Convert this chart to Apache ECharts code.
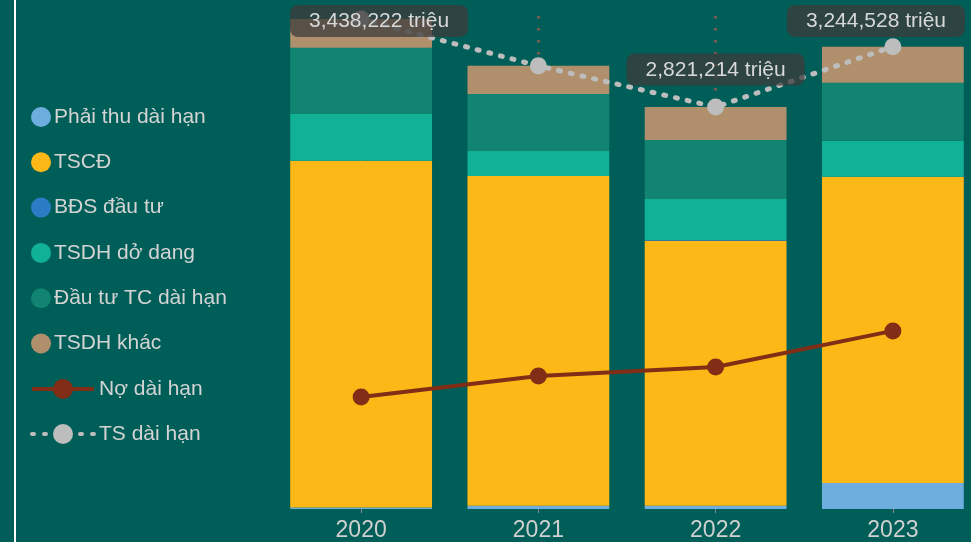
<!DOCTYPE html>
<html>
<head>
<meta charset="utf-8">
<script src="https://cdn.jsdelivr.net/npm/echarts@6/dist/echarts.min.js"></script>
<style>
html,body{margin:0;padding:0;background:#005e58;}
#chart{width:971px;height:542px;}
</style>
</head>
<body>
<div id="chart"></div>
<script>
const categories = ['2020', '2021', '2022', '2023'];
const phaiThu = [10000, 23000, 23000, 183000];
const tscd = [2434000, 2314000, 1860000, 2148000];
const bds = [0, 0, 5000, 0];
const doDang = [330000, 176000, 288000, 253000];
const dauTuTC = [463000, 400000, 414000, 407000];
const khac = [201222, 197000, 231214, 253528];
const noDaiHan = [786000, 934000, 997000, 1250000];
const tsDaiHan = [3438222, 3110000, 2821214, 3244528];
const tsLabelShown = [true, false, true, true];

const FONT = '"Liberation Sans", Arial, sans-serif';
const chart = echarts.init(document.getElementById('chart'));

function barSeries(name, data, color) {
  return { name, type: 'bar', stack: 'ts', data, barCategoryGap: '20%',
    itemStyle: { color }, emphasis: { disabled: true } };
}

const option = {
  backgroundColor: '#005e58',
  animation: false,
  textStyle: { fontFamily: FONT },
  graphic: [{ type: 'rect', shape: { x: 14, y: 0, width: 2, height: 542 }, style: { fill: '#ffffff' }, silent: true }],
  grid: { left: 272.5, width: 709, top: 16, bottom: 33, containLabel: false, outerBoundsMode: 'none' },
  legend: [
    { orient: 'vertical', left: 31, top: 106.5, padding: 0, itemWidth: 20, itemHeight: 20, itemGap: 24.3, icon: 'circle',
      textStyle: { color: '#d4d4d4', fontSize: 21, fontFamily: FONT, padding: [0, 0, 0, -2] },
      data: ['Phải thu dài hạn', 'TSCĐ', 'BĐS đầu tư', 'TSDH dở dang', 'Đầu tư TC dài hạn', 'TSDH khác'] },
    { orient: 'vertical', left: 30, top: 378.5, padding: 0, itemWidth: 62, itemHeight: 25, itemGap: 24,
      lineStyle: { width: 4 },
      textStyle: { color: '#d4d4d4', fontSize: 21, fontFamily: FONT },
      data: ['Nợ dài hạn', 'TS dài hạn'] }
  ],
  xAxis: {
    type: 'category', data: categories,
    axisLine: { show: false },
    axisTick: { show: true, alignWithLabel: true, length: 4, lineStyle: { color: '#8a8a8a' } },
    axisLabel: { color: '#d0d0d0', fontSize: 23, margin: 10, fontFamily: FONT },
    splitLine: { show: true, alignWithLabel: true, lineStyle: { color: '#7a5c55', width: 3, type: [2.5, 9.5] } }
  },
  yAxis: { type: 'value', min: 0, max: 3460000, show: false, splitLine: { show: false } },
  series: [
    barSeries('Phải thu dài hạn', phaiThu, '#6eaedf'),
    barSeries('TSCĐ', tscd, '#fcb816'),
    barSeries('BĐS đầu tư', bds, '#2a7cc4'),
    barSeries('TSDH dở dang', doDang, '#11b196'),
    barSeries('Đầu tư TC dài hạn', dauTuTC, '#118472'),
    barSeries('TSDH khác', khac, '#b0906c'),
    { name: 'Nợ dài hạn', type: 'line', data: noDaiHan, symbol: 'circle', symbolSize: 17,
      itemStyle: { color: '#822d16' }, lineStyle: { color: '#822d16', width: 4 }, z: 5 },
    { name: 'TS dài hạn', type: 'line',
      data: tsDaiHan.map((v, i) => ({ value: v, label: { show: tsLabelShown[i] } })),
      symbol: 'circle', symbolSize: 17, z: 6,
      itemStyle: { color: '#bdbdbd' },
      lineStyle: { color: '#bdbdbd', width: 5, type: [2, 10], cap: 'round' },
      label: { show: true, position: 'top', distance: 13,
        formatter: p => p.value.toLocaleString('en-US') + ' triệu',
        color: '#d8d8d8', fontSize: 21, fontFamily: FONT,
        backgroundColor: 'rgba(60,60,60,0.75)', borderRadius: 8, padding: [6, 19, 5, 19] },
      labelLayout: function (p) {
        const r = p.labelRect;
        let dx = 0, dy = 0;
        if (r.x < 290) dx = 290 - r.x;
        if (r.x + r.width > 965) dx = 965 - (r.x + r.width);
        if (r.y < 5) dy = 5 - r.y;
        return { dx, dy };
      }
    }
  ]
};
chart.setOption(option);
</script>
</body>
</html>
